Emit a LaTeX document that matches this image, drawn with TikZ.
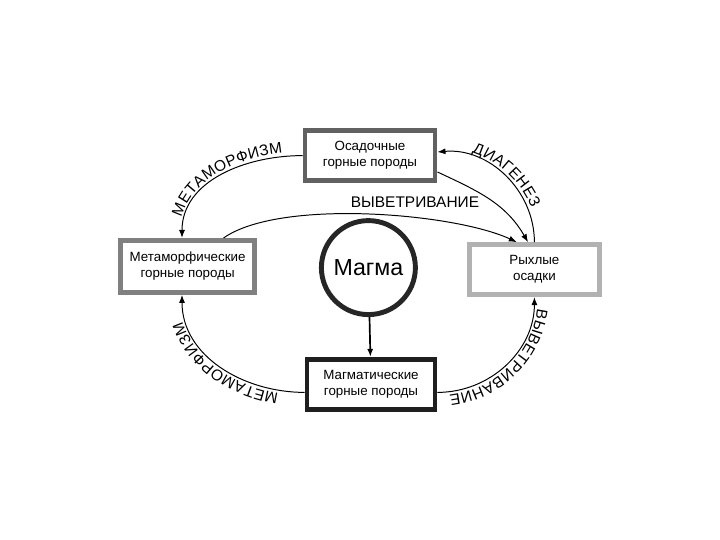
\documentclass[tikz,border=0pt]{standalone}
\usepackage{fontspec}
\setmainfont{Liberation Sans}
\usetikzlibrary{arrows.meta,decorations.text}
\newcommand\arclabelfont{\fontsize{11}{13}\selectfont}

\begin{document}
\begin{tikzpicture}[
    every node/.style={font=\fontsize{9.5}{11.5}\selectfont},
    >={Latex[length=2mm,width=1.5mm]},
    rock/.style={draw,fill=white,line width=3.5pt,minimum width=3.25cm,minimum height=1.25cm,align=center,inner sep=2pt},
    flow/.style={line width=0.7pt},
    arclabel/.style={postaction={decorate,decoration={text along path,text align=center,raise=2.5pt,text={|\arclabelfont|#1}}}}
  ]
    \useasboundingbox (0,0) rectangle (18,13.5);
    \node[rock,draw=black!62] (sed) at (9.25,9.61) {Осадочные\\горные породы};
    \node[rock,draw=black!50,minimum width=3.35cm,minimum height=1.3cm] (meta) at (4.69,6.84) {Метаморфические\\горные породы};
    \node[rock,draw=black!30] (loose) at (13.36,6.76) {Рыхлые\\осадки};
    \node[rock,draw=black!88,minimum width=3.2cm] (ign) at (9.275,3.89) {Магматические\\горные породы};
    \node[draw,circle,line width=3.5pt,draw=black!85,minimum size=2.35cm,font=\fontsize{16.5}{18}\selectfont] (magma) at (9.21,6.81) {Магма};
    \node[font=\arclabelfont] (weather) at (10.375,8.45) {ВЫВЕТРИВАНИЕ};
    \draw[flow,<-,arclabel={МЕТАМОРФИЗМ}] ([xshift=-0.14cm]meta.north) to[out=90,in=180] (sed.west);
    \draw[flow,<-,arclabel={ДИАГЕНЕЗ}] ([yshift=0.09cm]sed.east) to[out=5,in=90] (loose.north);
    \draw[flow,->] ([yshift=-0.41cm]sed.east) to[out=-25,in=120] ([xshift=-0.16cm]loose.north);
    \draw[flow,->] ([xshift=0.9cm]meta.north) to[out=35,in=155,looseness=0.6] ([xshift=-0.44cm]loose.north);
    \draw[flow,->,arclabel={МЕТАМОРФИЗМ}] ([yshift=-0.2cm]ign.west) to[out=180,in=-90] ([xshift=-0.14cm]meta.south);
    \draw[flow,<-,arclabel={ВЫВЕТРИВАНИЕ}] (loose.south) to[out=-90,in=0] ([yshift=-0.2cm]ign.east);
    \draw[line width=1.2pt,->] (magma) -- (ign);
\end{tikzpicture}
\end{document}
